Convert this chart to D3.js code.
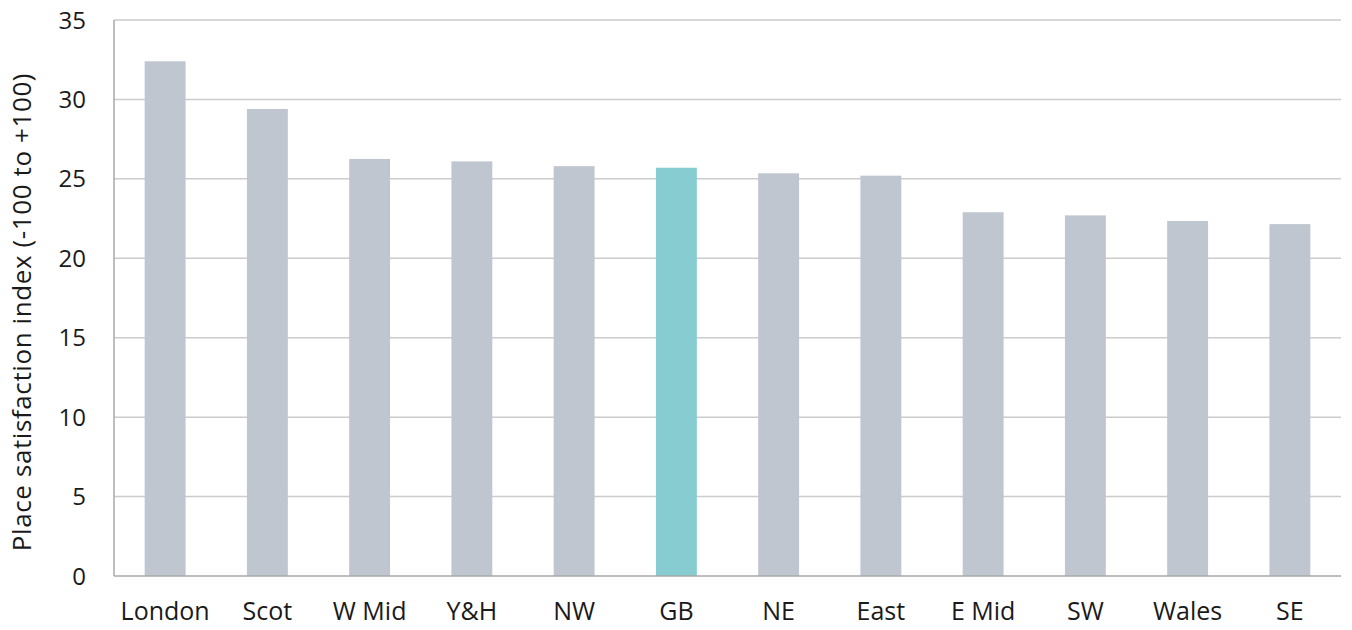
<!DOCTYPE html>
<html>
<head>
<meta charset="utf-8">
<script src="https://cdn.jsdelivr.net/npm/d3@7"></script>
<style>
  body { margin: 0; background: #fff; }
  text { font-family: "Open Sans", Lato, sans-serif; fill: #1a1a1a; }
</style>
</head>
<body>
<div id="chart"></div>
<script>
// Regions, sorted by place satisfaction
const regions = ["London", "Scot", "W Mid", "Y&H", "NW", "GB", "NE", "East", "E Mid", "SW", "Wales", "SE"];
const satisfaction = [32.4, 29.4, 26.25, 26.1, 25.8, 25.7, 25.35, 25.2, 22.9, 22.7, 22.35, 22.15];
const yTicks = [0, 5, 10, 15, 20, 25, 30, 35];
const highlight = "GB";

const width = 1352, height = 630;
const margin = { top: 20, right: 11, bottom: 54, left: 114 };

const svg = d3.select("#chart")
    .append("svg")
    .attr("width", width)
    .attr("height", height);

const x = d3.scaleBand()
    .domain(regions)
    .range([margin.left, width - margin.right])
    .paddingInner(0.6)
    .paddingOuter(0.3);

const y = d3.scaleLinear()
    .domain([0, 35])
    .range([height - margin.bottom, margin.top]);

// gridlines
svg.append("g")
    .selectAll("line")
    .data(yTicks.filter(d => d > 0))
    .enter()
    .append("line")
    .attr("x1", margin.left)
    .attr("x2", width - margin.right)
    .attr("y1", d => y(d))
    .attr("y2", d => y(d))
    .attr("stroke", "#cccccc")
    .attr("stroke-width", 1.5);

// bars
svg.append("g")
    .selectAll("rect")
    .data(regions)
    .enter()
    .append("rect")
    .attr("x", d => x(d))
    .attr("width", x.bandwidth())
    .attr("y", (d, i) => y(satisfaction[i]))
    .attr("height", (d, i) => y(0) - y(satisfaction[i]))
    .attr("fill", d => d === highlight ? "#87ccd0" : "#bfc6cf");

// axis lines
svg.append("line")
    .attr("x1", margin.left).attr("x2", margin.left)
    .attr("y1", y(35)).attr("y2", y(0))
    .attr("stroke", "#a9a9a9").attr("stroke-width", 1.5);
svg.append("line")
    .attr("x1", margin.left).attr("x2", width - margin.right)
    .attr("y1", y(0)).attr("y2", y(0))
    .attr("stroke", "#a9a9a9").attr("stroke-width", 1.5);

// y tick labels
svg.append("g")
    .selectAll("text")
    .data(yTicks)
    .enter()
    .append("text")
    .attr("x", 86)
    .attr("y", d => y(d))
    .attr("dy", "0.36em")
    .attr("text-anchor", "end")
    .style("font-size", "24px")
    .text(d => d);

// x labels
svg.append("g")
    .selectAll("text")
    .data(regions)
    .enter()
    .append("text")
    .attr("x", d => x(d) + x.bandwidth() / 2)
    .attr("y", 620)
    .attr("text-anchor", "middle")
    .style("font-size", "25px")
    .text(d => d);

// y axis title
svg.append("text")
    .attr("transform", `translate(31,312) rotate(-90)`)
    .attr("text-anchor", "middle")
    .style("font-size", "26px")
    .style("letter-spacing", "0.6px")
    .text("Place satisfaction index (-100 to +100)");
</script>
</body>
</html>
